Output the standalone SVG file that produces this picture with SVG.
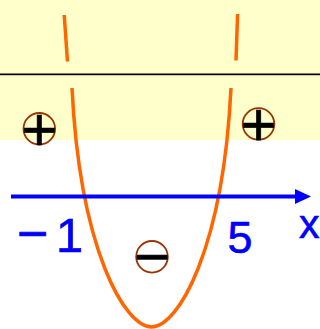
<svg xmlns="http://www.w3.org/2000/svg" width="320" height="329" viewBox="0 0 320 329">
<style>
.curve{fill:none;stroke:#FF6600;stroke-width:3.5}
.sign{fill:#000;font-family:"Liberation Sans",Arial,sans-serif;font-size:62px;text-anchor:middle;stroke:#000;stroke-width:0.6}
.ring{fill:none;stroke:#993300;stroke-width:1.8}
.lbl{fill:#0000FF;stroke:#0000FF;stroke-width:0.6;font-family:"Liberation Sans",Arial,sans-serif}
</style>
<defs>
<marker id="ah" markerWidth="16" markerHeight="16" refX="0" refY="7.5" orient="auto" markerUnits="userSpaceOnUse">
<path d="M0,0 L16,7.5 L0,15 Z" fill="#0000FF"/>
</marker>
</defs>
<rect x="0" y="0" width="320" height="329" fill="#FFFFFF"/>
<rect x="0" y="0" width="320" height="140" fill="#FFFFCC"/>
<line x1="0" y1="75.6" x2="320" y2="75.6" stroke="#999999" stroke-width="1" opacity="0.6"/>
<line x1="0" y1="74.2" x2="320" y2="74.2" stroke="#000000" stroke-width="1.6"/>
<g id="parabola">
<line class="curve" x1="64.2" y1="15" x2="67.5" y2="61.5"/>
<line class="curve" x1="237.6" y1="14" x2="236" y2="60.5"/>
<path class="curve" d="M72,88 C80,250 125,327 151.5,327 C178,327 223,250 231,88"/>
</g>
<g id="connectors">
<line x1="11" y1="196.5" x2="295" y2="196.5" stroke="#0000FF" stroke-width="4" marker-end="url(#ah)"/>
</g>
<g id="plus-left">
<circle class="ring" cx="39.3" cy="128.8" r="15.8"/>
<text class="sign" x="39.3" y="149.5">+</text>
</g>
<g id="plus-right">
<circle class="ring" cx="258.5" cy="124" r="15.8"/>
<text class="sign" x="258.5" y="144.7">+</text>
</g>
<g id="minus-mid">
<circle class="ring" cx="152" cy="256.8" r="15.8"/>
<text class="sign" x="152" y="277.8">−</text>
</g>
<g id="label-m1">
<text class="lbl"><tspan x="17" y="252" font-size="54">−</tspan><tspan x="56" y="251.5" font-size="49">1</tspan></text>
</g>
<g id="label-5">
<text class="lbl" x="227.5" y="252.5" font-size="45">5</text>
</g>
<g id="label-x">
<text class="lbl" x="299" y="238" font-size="41">x</text>
</g>
</svg>
